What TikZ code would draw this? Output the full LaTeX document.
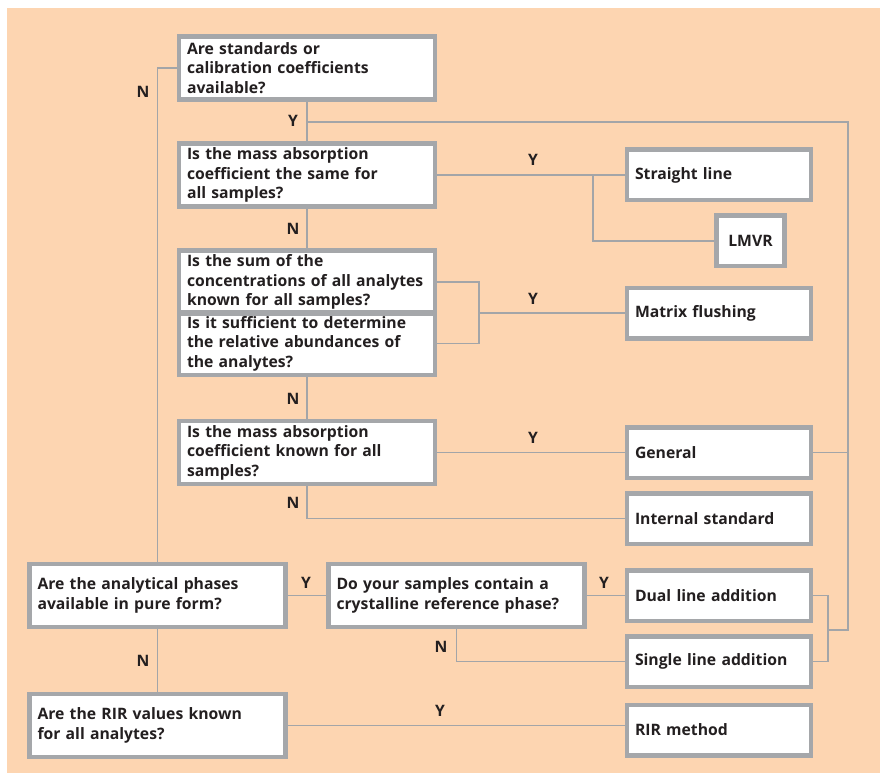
\documentclass[tikz,border=0pt]{standalone}
\usepackage{fontspec}
\setmainfont{Open Sans}
\usetikzlibrary{positioning}
\definecolor{peach}{HTML}{FDD5B1}
\definecolor{boxgray}{HTML}{A5A7AA}
\definecolor{linegray}{HTML}{A3A5A8}
\definecolor{inkdark}{HTML}{231F20}
\begin{document}
\begin{tikzpicture}[
  x=0.75pt, y=-0.75pt,
  every node/.style={font=\fontsize{11.8}{14.6}\selectfont\bfseries, text=inkdark},
  qbox/.style={draw=boxgray, line width=2.25pt, fill=white, inner xsep=5.6pt, inner ysep=0pt,
    text width=180pt, minimum height=46pt, align=left},
  rbox/.style={qbox, text width=126pt, minimum height=36.75pt},
  yn/.style={inner sep=1pt},
  conn/.style={draw=linegray, line width=1.1pt}
  ]
  \useasboundingbox (0,0) rectangle (880,773);
  \fill[peach] (7,8) rectangle (880,773);

  % questions
  \node[qbox] (q1) at (307,68) {Are standards or\\calibration coefficients\\available?};
  \node[qbox] (q2) at (307,175) {Is the mass absorption\\coefficient the same for\\all samples?};
  \node[qbox] (q3a) at (307,282) {Is the sum of the\\\mbox{concentrations of all analytes}\\known for all samples?};
  \node[qbox] (q3b) at (307,343.5) {\mbox{Is it sufficient to determine}\\the relative abundances of\\the analytes?};
  \node[qbox] (q4) at (307,452.5) {Is the mass absorption\\coefficient known for all\\samples?};
  \node[qbox] (q5) at (157.5,595.5) {Are the analytical phases\\available in pure form?};
  \node[qbox] (q6) at (456.5,595.5) {Do your samples contain a\\\mbox{crystalline reference phase?}};
  \node[qbox] (q7) at (157.5,725.5) {Are the RIR values known\\for all analytes?};

  % methods
  \node[rbox] (sl) at (719,175) {Straight line};
  \node[rbox, text width=39pt, align=center] (lmvr) at (750.5,241) {LMVR};
  \node[rbox] (mf) at (719,313) {Matrix flushing};
  \node[rbox] (gen) at (719,452.5) {General};
  \node[rbox] (is) at (719,518.5) {Internal standard};
  \node[rbox] (dla) at (719,595.5) {Dual line addition};
  \node[rbox] (sla) at (719,661.5) {Single line addition};
  \node[rbox] (rir) at (719,730) {RIR method};

  \coordinate (rt) at (848,122);
  \coordinate (rb) at (848,630);
  \coordinate (brk) at (828,630);
  \coordinate (j1) at (593,175);
  \coordinate (j2) at (479,313);

  % connectors
  \draw[conn] (q1.west) -| (q5.north);
  \draw[conn] (q1.south) -- (q2.north);
  \draw[conn] (q1.south |- rt) -- (rt) -- (rb) -- (brk);
  \draw[conn] (q2.east) -- (sl.west);
  \draw[conn] (j1) |- (lmvr.west);
  \draw[conn] (q2.south) -- (q3a.north);
  \draw[conn] (q3a.east) -| (j2) |- (q3b.east);
  \draw[conn] (j2) -- (mf.west);
  \draw[conn] (q3b.south) -- (q4.north);
  \draw[conn] (q4.east) -- (gen.west);
  \draw[conn] (gen.east) -- (gen.east -| rt);
  \draw[conn] (q4.south) |- (is.west);
  \draw[conn] (q5.east) -- (q6.west);
  \draw[conn] (q6.east) -- (dla.west);
  \draw[conn] (q6.south) |- (sla.west);
  \draw[conn] (dla.east) -| (brk) |- (sla.east);
  \draw[conn] (q5.south) -- (q7.north);
  \draw[conn] (q7.east) -- (q7.east -| rir.west);
  \foreach \b in {q1,q2,q3a,q3b,q4,q5,q6,q7,sl,lmvr,mf,gen,is,dla,sla,rir}
    \draw[draw=boxgray, line width=2.25pt] (\b.north west) rectangle (\b.south east);

  % Y / N labels
  \node[yn] (n1) at (143,92) {N};
  \node[yn] (y1) at (293,121) {Y};
  \node[yn] (y2) at (533,160) {Y};
  \node[yn] (n2) at (293,229) {N};
  \node[yn] (y3) at (533,299) {Y};
  \node[yn] (n3) at (293,399) {N};
  \node[yn] (y4) at (533,438) {Y};
  \node[yn] (n4) at (293,503) {N};
  \node[yn] (y5) at (306,583) {Y};
  \node[yn] (y6) at (604,583) {Y};
  \node[yn] (n5) at (441,647) {N};
  \node[yn] (n6) at (143,661) {N};
  \node[yn] (y7) at (440,711) {Y};
\end{tikzpicture}
\end{document}
